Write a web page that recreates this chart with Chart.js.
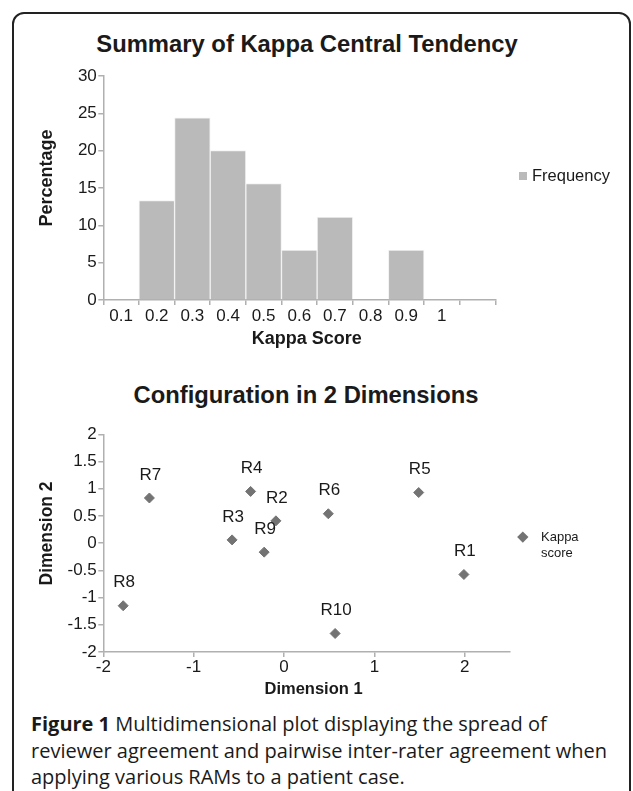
<!DOCTYPE html>
<html>
<head>
<meta charset="utf-8">
<script src="https://cdn.jsdelivr.net/npm/chart.js@4.4.1/dist/chart.umd.min.js"></script>
<style>
  html, body { margin: 0; padding: 0; background: #fff; }
  #page { position: relative; width: 633px; height: 791px; overflow: hidden; font-family: "Liberation Sans", Arial, Helvetica, sans-serif; color: #1a1a1a; }
  .frame { position: absolute; left: 12px; top: 11.5px; width: 615px; height: 820px; border: 2px solid #222; border-radius: 12px; }
  .box { position: absolute; }
  .title { position: absolute; font-weight: bold; font-size: 23.8px; line-height: 28px; text-align: center; white-space: nowrap; }
  .caption { position: absolute; left: 31px; top: 711px; font-family: "Open Sans", "Noto Sans", sans-serif; font-size: 20px; line-height: 26.5px; white-space: nowrap; color: #1a1a1a; }
</style>
</head>
<body>
<div id="page">
  <div class="frame"></div>

  <div class="title" style="left:0; width:614px; top:30px;">Summary of Kappa Central Tendency</div>
  <div class="box" style="left:0; top:0; width:633px; height:352px;"><canvas id="histChart"></canvas></div>
  <div class="box" style="left:519px; top:172px; width:8px; height:8px; background:#bababa;"></div>
  <div class="box" style="left:532px; top:165px; font-size:16.5px; line-height:20px;">Frequency</div>

  <div class="title" style="left:0; width:612px; top:381px;">Configuration in 2 Dimensions</div>
  <div class="box" style="left:0; top:360px; width:633px; height:342px;"><canvas id="mdsChart"></canvas></div>
  <div class="box" style="left:519px; top:533px; width:7.6px; height:7.6px; background:#737373; transform:rotate(45deg);"></div>
  <div class="box" style="left:541px; top:528.5px; font-size:13px; line-height:16.3px;">Kappa<br>score</div>

  <div class="caption"><b>Figure 1</b> Multidimensional plot displaying the spread of<br>reviewer agreement and pairwise inter-rater agreement when<br>applying various RAMs to a patient case.</div>
</div>

<script>
  // Histogram data (percentage of kappa scores per bin)
  const kappaBins = ['0.1', '0.2', '0.3', '0.4', '0.5', '0.6', '0.7', '0.8', '0.9', '1', ''];
  const frequencyPct = [0, 13.3, 24.4, 20.0, 15.6, 6.7, 11.1, 0, 6.7, 0, null];
  const percentTicks = [0, 5, 10, 15, 20, 25, 30];

  // MDS configuration for the reviewers
  const reviewers = ['R1', 'R2', 'R3', 'R4', 'R5', 'R6', 'R7', 'R8', 'R9', 'R10'];
  const dim1 = [1.99, -0.09, -0.575, -0.37, 1.49, 0.49, -1.49, -1.78, -0.22, 0.565];
  const dim2 = [-0.576, 0.41, 0.06, 0.95, 0.93, 0.54, 0.83, -1.15, -0.165, -1.66];

  const FONT = '"Liberation Sans", Arial, Helvetica, sans-serif';
  const AXIS = '#b0b0b0';
  const INK = '#1a1a1a';

  Chart.defaults.font.family = FONT;
  Chart.defaults.color = INK;

  // the axis titles in the original sit a little off-centre, leading spaces nudge them
  const nudge = (n, s) => ' '.repeat(n) + s;

  // draws the reviewer name above each diamond
  const pointLabels = {
    id: 'pointLabels',
    afterDatasetsDraw(chart) {
      const ctx = chart.ctx;
      const meta = chart.getDatasetMeta(0);
      ctx.save();
      ctx.font = '17px ' + FONT;
      ctx.fillStyle = INK;
      ctx.textAlign = 'center';
      ctx.textBaseline = 'middle';
      meta.data.forEach((pt, i) => {
        ctx.fillText(reviewers[i], pt.x + 1, pt.y - 23);
      });
      ctx.restore();
    }
  };

  function axisGrid() {
    return { drawOnChartArea: false, drawTicks: true, tickLength: 5, color: AXIS, lineWidth: 1.5 };
  }

  new Chart(document.getElementById('histChart'), {
    type: 'bar',
    data: {
      labels: kappaBins,
      datasets: [{
        label: 'Frequency',
        data: frequencyPct,
        backgroundColor: '#bababa',
        borderColor: '#f2f2f2',
        borderWidth: 1,
        barPercentage: 1,
        categoryPercentage: 1
      }]
    },
    options: {
      responsive: true,
      maintainAspectRatio: false,
      animation: false,
      layout: { padding: { top: 76, right: 137.7, bottom: 0, left: 28 } },
      plugins: { legend: { display: false }, tooltip: { enabled: false } },
      scales: {
        x: {
          grid: axisGrid(),
          border: { color: AXIS, width: 1.5 },
          ticks: { font: { size: 17 }, padding: 1.5, maxRotation: 0, autoSkip: false },
          title: { display: true, text: nudge(3, 'Kappa Score'), font: { size: 18, weight: 'bold' }, padding: { top: 0, bottom: 2.2 } },
          afterFit(scale) { scale.height = 52; }
        },
        y: {
          min: 0,
          max: 30,
          afterBuildTicks(scale) { scale.ticks = percentTicks.map(v => ({ value: v })); },
          grid: axisGrid(),
          border: { color: AXIS, width: 1.5 },
          ticks: { font: { size: 17 }, padding: 1.5 },
          title: { display: true, text: nudge(4, 'Percentage'), font: { size: 18, weight: 'bold' }, padding: { top: 8.7, bottom: 0 } },
          afterFit(scale) { scale.width = 75.3; }
        }
      }
    }
  });

  new Chart(document.getElementById('mdsChart'), {
    type: 'scatter',
    data: {
      datasets: [{
        label: 'Kappa score',
        data: dim1.map((x, i) => ({ x: x, y: dim2[i] })),
        pointStyle: 'rectRot',
        pointRadius: 5,
        pointBorderWidth: 1,
        backgroundColor: '#737373',
        borderColor: '#737373'
      }]
    },
    plugins: [pointLabels],
    options: {
      responsive: true,
      maintainAspectRatio: false,
      animation: false,
      layout: { padding: { top: 74.3, right: 123, bottom: 0, left: 28 } },
      plugins: { legend: { display: false }, tooltip: { enabled: false } },
      scales: {
        x: {
          type: 'linear',
          min: -2,
          max: 2.5,
          grid: axisGrid(),
          border: { color: AXIS, width: 1.5 },
          ticks: { stepSize: 1, includeBounds: false, font: { size: 17 }, padding: 0.5, callback: v => String(v) },
          title: { display: true, text: nudge(3, 'Dimension 1'), font: { size: 16.5, weight: 'bold' }, padding: { top: 0, bottom: 2.4 } },
          afterFit(scale) { scale.height = 50; }
        },
        y: {
          min: -2,
          max: 2,
          grid: axisGrid(),
          border: { color: AXIS, width: 1.5 },
          ticks: { stepSize: 0.5, font: { size: 17 }, padding: 1.5, callback: v => String(v) },
          title: { display: true, text: nudge(4, 'Dimension 2'), font: { size: 17.5, weight: 'bold' }, padding: { top: 9, bottom: 0 } },
          afterFit(scale) { scale.width = 75.3; }
        }
      }
    }
  });
</script>
</body>
</html>
